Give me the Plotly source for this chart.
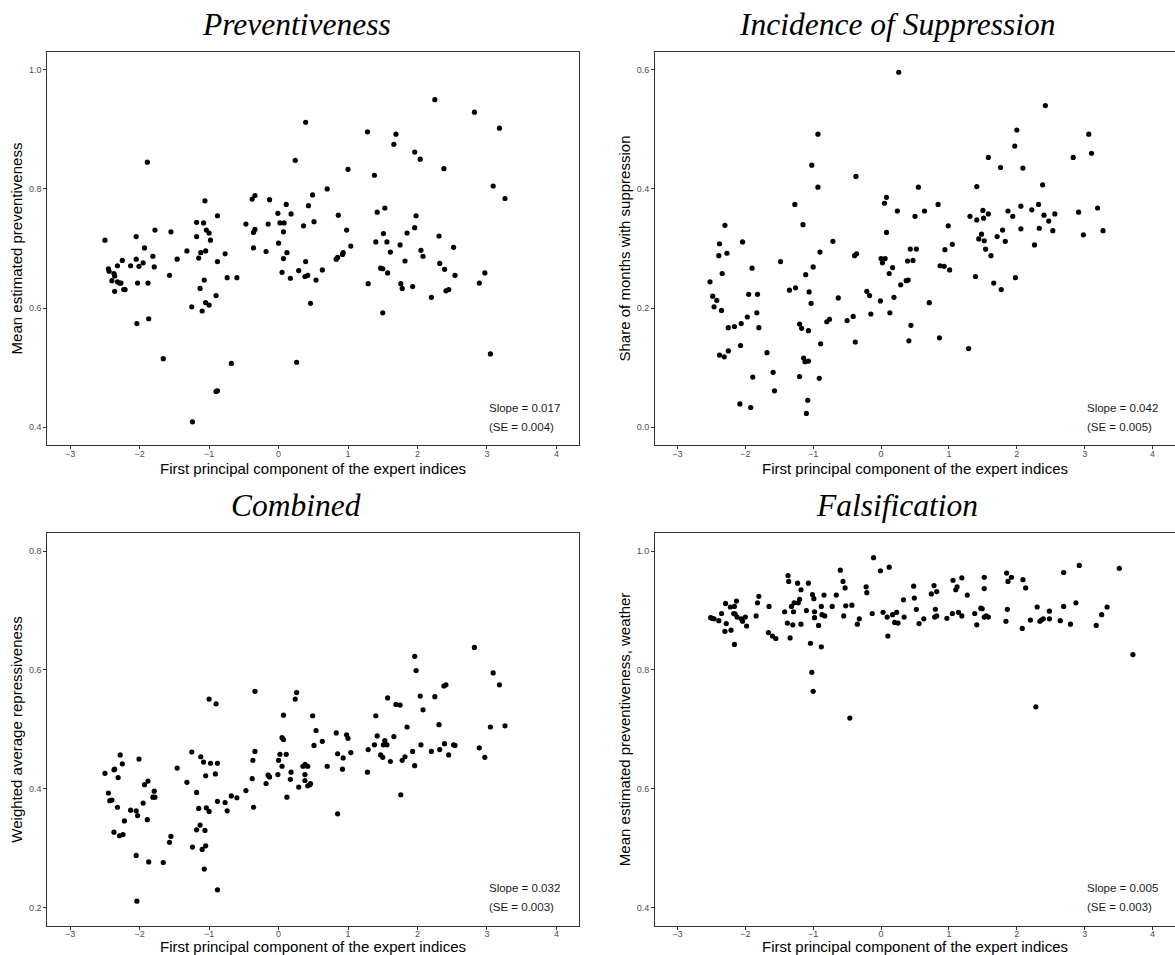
import plotly.graph_objects as go

# ---------------- data ----------------
prev_x = [-2.50, -2.45, -2.44, -2.40, -2.37, -2.36, -2.36, -2.32, -2.32, -2.29,
          -2.27, -2.25, -2.23, -2.21, -2.13, -2.05, -2.05, -2.03, -2.01, -2.04,
          -1.95, -1.93, -1.88, -1.89, -1.87, -1.81, -1.79, -1.78, -1.66, -1.57,
          -1.55, -1.46, -1.32, -1.25, -1.24, -1.18, -1.18, -1.15, -1.13, -1.12,
          -1.10, -1.08, -1.07, -1.06, -1.05, -1.05, -1.04, -1.00, -1.00, -0.98,
          -0.90, -0.90, -0.88, -0.88, -0.88, -0.77, -0.74, -0.68, -0.60, -0.47,
          -0.38, -0.36, -0.34, -0.34, -0.36, -0.18, -0.15, -0.13, -0.01, 0.00,
          0.02, 0.05, 0.07, 0.07, 0.08, 0.11, 0.12, 0.17, 0.18, 0.24,
          0.26, 0.29,
          0.39, 0.36, 0.39, 0.38, 0.42, 0.43, 0.46, 0.49, 0.51, 0.54,
          0.63, 0.70, 0.83, 0.85, 0.86, 0.92, 0.93, 0.98, 1.00, 1.04,
          1.28, 1.29, 1.38, 1.40, 1.42, 1.47, 1.50, 1.51, 1.53, 1.56,
          1.57, 1.50, 1.61, 1.66, 1.69, 1.75, 1.76, 1.78, 1.82, 1.85,
          1.93, 1.96, 1.96, 1.98, 2.04, 2.05, 2.08, 2.20, 2.25, 2.31,
          2.32, 2.38, 2.39, 2.41, 2.45, 2.52, 2.54, 2.82, 2.89, 2.97,
          3.05, 3.09, 3.18, 3.26]
prev_y = [0.714, 0.666, 0.662, 0.646, 0.658, 0.654, 0.628, 0.644, 0.671, 0.642,
          0.642, 0.680, 0.631, 0.631, 0.671, 0.720, 0.682, 0.642, 0.670, 0.574,
          0.676, 0.701, 0.642, 0.845, 0.582, 0.687, 0.669, 0.731, 0.515, 0.655,
          0.728, 0.682, 0.696, 0.602, 0.409, 0.744, 0.720, 0.684, 0.633, 0.693,
          0.595, 0.743, 0.647, 0.780, 0.696, 0.609, 0.731, 0.605, 0.726, 0.714,
          0.621, 0.460, 0.461, 0.678, 0.755, 0.691, 0.651, 0.507, 0.651, 0.741,
          0.783, 0.727, 0.789, 0.732, 0.701, 0.695, 0.741, 0.782, 0.759, 0.709,
          0.743, 0.660, 0.683, 0.728, 0.743, 0.774, 0.693, 0.650, 0.758, 0.848,
          0.509, 0.663,
          0.912, 0.738, 0.678, 0.653, 0.655, 0.772, 0.608, 0.790, 0.745, 0.647,
          0.664, 0.800, 0.682, 0.685, 0.756, 0.690, 0.693, 0.731, 0.833, 0.704,
          0.896, 0.641, 0.823, 0.711, 0.761, 0.667, 0.666, 0.725, 0.768, 0.711,
          0.659, 0.592, 0.694, 0.875, 0.892, 0.706, 0.641, 0.633, 0.679, 0.726,
          0.636, 0.735, 0.862, 0.755, 0.850, 0.697, 0.687, 0.618, 0.950, 0.721,
          0.675, 0.834, 0.665, 0.629, 0.631, 0.702, 0.655, 0.929, 0.642, 0.659,
          0.523, 0.805, 0.902, 0.784]

supp_x = [-2.52, -2.48, -2.46, -2.42, -2.39, -2.38, -2.38, -2.35, -2.34, -2.31,
          -2.30, -2.27, -2.25, -2.25, -2.16, -2.08, -2.07, -2.06, -2.04, -1.97,
          -1.95, -1.92, -1.90, -1.89, -1.83, -1.82, -1.80, -1.68, -1.59, -1.57,
          -1.48, -1.35, -1.27, -1.26, -1.20, -1.20, -1.17, -1.15, -1.14, -1.12,
          -1.11, -1.08, -1.10, -1.07, -1.07, -1.06, -1.03, -1.02, -1.00, -0.93,
          -0.93, -0.90, -0.91, -0.89, -0.80, -0.76, -0.71, -0.63, -0.50, -0.41,
          -0.39, -0.38, -0.37, -0.36, -0.21, -0.17, -0.15,
          -0.01, 0.00, 0.02, 0.05, 0.06, 0.08, 0.08, 0.12, 0.13, 0.17,
          0.19, 0.24, 0.26, 0.29, 0.37, 0.40, 0.39, 0.41, 0.43, 0.44,
          0.47, 0.50, 0.52, 0.55, 0.64, 0.71, 0.84, 0.86, 0.87, 0.93,
          0.94, 0.99, 1.01, 1.05, 1.29, 1.31, 1.39, 1.41, 1.41, 1.44,
          1.48, 1.50, 1.51, 1.52, 1.54, 1.58, 1.58, 1.62, 1.66, 1.71,
          1.76, 1.77, 1.79, 1.83, 1.87, 1.94, 1.97, 1.98, 2.00, 2.06,
          2.06, 2.09, 2.22, 2.26, 2.32, 2.33, 2.38, 2.40, 2.42, 2.47,
          2.53, 2.56, 2.83, 2.91, 2.98, 3.06, 3.10, 3.19, 3.27]
supp_y = [0.244, 0.220, 0.202, 0.213, 0.288, 0.121, 0.308, 0.196, 0.258, 0.118,
          0.339, 0.292, 0.167, 0.128, 0.169, 0.039, 0.137, 0.174, 0.311, 0.185,
          0.223, 0.033, 0.267, 0.084, 0.192, 0.223, 0.167, 0.125, 0.092, 0.061,
          0.278, 0.230, 0.374, 0.234, 0.085, 0.173, 0.166, 0.340, 0.116, 0.110,
          0.256, 0.045, 0.023, 0.162, 0.111, 0.227, 0.208, 0.440, 0.269, 0.403,
          0.492, 0.294, 0.082, 0.140, 0.177, 0.181, 0.312, 0.217, 0.179, 0.186,
          0.288, 0.143, 0.421, 0.291, 0.228, 0.221, 0.190,
          0.212, 0.283, 0.276, 0.376, 0.283, 0.327, 0.386, 0.258, 0.192, 0.268,
          0.218, 0.363, 0.596, 0.239, 0.246, 0.247, 0.279, 0.145, 0.299, 0.171,
          0.280, 0.354, 0.299, 0.403, 0.363, 0.209, 0.374, 0.150, 0.271, 0.270,
          0.298, 0.338, 0.264, 0.307, 0.132, 0.354, 0.253, 0.348, 0.404, 0.316,
          0.324, 0.364, 0.351, 0.313, 0.299, 0.358, 0.453, 0.288, 0.242, 0.320,
          0.436, 0.231, 0.331, 0.312, 0.363, 0.354, 0.472, 0.251, 0.499, 0.371,
          0.333, 0.435, 0.365, 0.306, 0.374, 0.334, 0.407, 0.356, 0.540, 0.346,
          0.330, 0.358, 0.453, 0.361, 0.323, 0.492, 0.460, 0.368, 0.330]

comb_x = [-2.50, -2.45, -2.43, -2.40, -2.37, -2.37, -2.36, -2.32, -2.31, -2.29,
          -2.28, -2.25, -2.24, -2.22, -2.13, -2.05, -2.05, -2.04, -2.03, -2.01,
          -1.95, -1.93, -1.89, -1.88, -1.87, -1.81, -1.79, -1.78, -1.66, -1.57,
          -1.55, -1.46, -1.32, -1.25, -1.24, -1.18, -1.18, -1.15, -1.13, -1.12,
          -1.10, -1.08, -1.07, -1.06, -1.05, -1.05, -1.04, -1.00, -1.00, -0.98,
          -0.91, -0.90, -0.88, -0.88, -0.88, -0.77, -0.74, -0.68, -0.60, -0.47,
          -0.38, -0.37, -0.36, -0.34, -0.34, -0.18, -0.15, -0.13, -0.01, 0.00,
          0.02, 0.05, 0.05, 0.07, 0.07, 0.11, 0.12, 0.17, 0.18, 0.24,
          0.26, 0.29,
          0.35, 0.38, 0.39, 0.42, 0.38, 0.38, 0.42, 0.45, 0.46, 0.49,
          0.51, 0.54, 0.63, 0.70, 0.83, 0.85, 0.92, 0.93, 0.98, 1.00,
          1.04, 0.85, 1.28, 1.29, 1.38, 1.40, 1.42, 1.47, 1.50, 1.51,
          1.53, 1.56, 1.57, 1.61, 1.66, 1.69, 1.75, 1.76, 1.78, 1.82,
          1.85, 1.93, 1.96, 1.96, 1.98, 2.04, 2.05, 2.08, 2.20, 2.25,
          2.31, 2.32, 2.38, 2.39, 2.41, 2.45, 2.52, 2.54, 2.82, 2.89,
          2.97, 3.05, 3.09, 3.18, 3.26]
comb_y = [0.426, 0.393, 0.380, 0.381, 0.327, 0.432, 0.433, 0.369, 0.419, 0.321,
          0.457, 0.442, 0.323, 0.346, 0.364, 0.363, 0.288, 0.211, 0.355, 0.450,
          0.376, 0.407, 0.348, 0.413, 0.277, 0.386, 0.396, 0.386, 0.276, 0.310,
          0.320, 0.435, 0.411, 0.462, 0.302, 0.331, 0.394, 0.367, 0.339, 0.454,
          0.298, 0.445, 0.265, 0.330, 0.304, 0.422, 0.368, 0.362, 0.551, 0.443,
          0.425, 0.543, 0.230, 0.443, 0.379, 0.377, 0.363, 0.388, 0.385, 0.397,
          0.417, 0.448, 0.369, 0.463, 0.564, 0.409, 0.423, 0.420, 0.424, 0.448,
          0.458, 0.438, 0.486, 0.483, 0.524, 0.458, 0.386, 0.416, 0.428, 0.551,
          0.562, 0.403,
          0.438, 0.441, 0.439, 0.438, 0.424, 0.414, 0.405, 0.407, 0.409, 0.523,
          0.473, 0.498, 0.480, 0.438, 0.494, 0.459, 0.433, 0.452, 0.491, 0.485,
          0.461, 0.358, 0.428, 0.466, 0.474, 0.523, 0.489, 0.457, 0.453, 0.474,
          0.481, 0.474, 0.553, 0.446, 0.488, 0.542, 0.541, 0.390, 0.448, 0.454,
          0.504, 0.463, 0.623, 0.439, 0.599, 0.556, 0.474, 0.533, 0.463, 0.555,
          0.508, 0.466, 0.573, 0.476, 0.575, 0.457, 0.474, 0.473, 0.638, 0.469,
          0.453, 0.504, 0.595, 0.575, 0.506]

fals_x = [-2.51, -2.49, -2.46, -2.39, -2.35, -2.30, -2.29, -2.28, -2.22, -2.21,
          -2.17, -2.16, -2.16, -2.15, -2.13, -2.12, -2.06, -2.04, -2.00, -1.98,
          -1.84, -1.82, -1.80, -1.65, -1.66, -1.60, -1.55, -1.42, -1.38, -1.37,
          -1.36, -1.34, -1.32, -1.30, -1.29, -1.28, -1.23, -1.22, -1.20, -1.18,
          -1.18, -1.10, -1.07, -1.04, -1.02, -1.01, -1.00, -0.99, -0.98, -0.98,
          -0.92, -0.88, -0.88, -0.87, -0.84, -0.83, -0.72, -0.66, -0.60, -0.56,
          -0.55, -0.53, -0.52, -0.46, -0.43, -0.35, -0.32, -0.22, -0.21, -0.13,
          -0.11,
          -0.01, 0.12, 0.03, 0.09, 0.10, 0.17, 0.20, 0.23, 0.25, 0.33,
          0.34, 0.48, 0.49, 0.52, 0.56, 0.63, 0.74, 0.78, 0.80, 0.79,
          0.82, 0.82, 0.97, 1.05, 1.06, 1.10, 1.12, 1.14, 1.19, 1.19,
          1.27, 1.38, 1.41, 1.47, 1.49, 1.52, 1.52, 1.52, 1.55, 1.58,
          1.84, 1.85, 1.86, 1.87, 1.92, 2.08, 2.09, 2.13, 2.20, 2.28,
          2.30, 2.34, 2.36, 2.39, 2.48, 2.48, 2.64, 2.69, 2.69, 2.79,
          2.87, 2.92, 3.17, 3.25, 3.33, 3.51, 3.71]
fals_y = [0.888, 0.887, 0.886, 0.883, 0.895, 0.865, 0.912, 0.878, 0.906, 0.867,
          0.895, 0.843, 0.907, 0.894, 0.916, 0.889, 0.886, 0.882, 0.889, 0.874,
          0.891, 0.913, 0.924, 0.907, 0.863, 0.857, 0.853, 0.898, 0.879, 0.959,
          0.949, 0.854, 0.907, 0.876, 0.898, 0.913, 0.946, 0.913, 0.919, 0.935,
          0.877, 0.900, 0.946, 0.845, 0.796, 0.927, 0.764, 0.920, 0.888, 0.898,
          0.875, 0.907, 0.839, 0.893, 0.926, 0.891, 0.907, 0.926, 0.968, 0.949,
          0.891, 0.938, 0.908, 0.719, 0.909, 0.877, 0.886, 0.940, 0.930, 0.895,
          0.989,
          0.967, 0.973, 0.897, 0.889, 0.857, 0.893, 0.880, 0.897, 0.879, 0.918,
          0.889, 0.941, 0.921, 0.902, 0.878, 0.886, 0.928, 0.942, 0.902, 0.889,
          0.932, 0.891, 0.887, 0.895, 0.951, 0.935, 0.940, 0.897, 0.955, 0.891,
          0.926, 0.895, 0.876, 0.904, 0.903, 0.956, 0.937, 0.889, 0.891, 0.889,
          0.882, 0.963, 0.902, 0.949, 0.956, 0.870, 0.952, 0.938, 0.884, 0.738,
          0.906, 0.882, 0.884, 0.886, 0.886, 0.899, 0.883, 0.964, 0.907, 0.877,
          0.913, 0.976, 0.875, 0.893, 0.906, 0.971, 0.826]

titles = ["Preventiveness", "Incidence of Suppression", "Combined", "Falsification"]
y_titles = ["Mean estimated preventiveness", "Share of months with suppression",
            "Weighted average repressiveness", "Mean estimated preventiveness, weather"]
slopes = ["0.017", "0.042", "0.032", "0.005"]
ses = ["0.004", "0.005", "0.003", "0.003"]
y_ranges = [[0.37, 1.03], [-0.03, 0.63], [0.17, 0.83], [0.37, 1.03]]
y_ticks = [[0.4, 0.6, 0.8, 1.0], [0.0, 0.2, 0.4, 0.6], [0.2, 0.4, 0.6, 0.8], [0.4, 0.6, 0.8, 1.0]]
x_ticks = [-3, -2, -1, 0, 1, 2, 3, 4]
x_title = "First principal component of the expert indices"

series = [(prev_x, prev_y), (supp_x, supp_y), (comb_x, comb_y), (fals_x, fals_y)]

# ---------------- layout ----------------
W, H = 1175, 955
x_domains = [[47.3 / W, 579.3 / W], [655.0 / W, 1.0]]
y_domains = [[1 - 445.0 / H, 1 - 52.0 / H], [1 - 925.5 / H, 1 - 533.3 / H]]
title_x = [296.0 / W, 897.0 / W]
title_y = [1 - 25.0 / H, 1 - 505.5 / H]
xtitle_y = [1 - 468.0 / H, 1 - 946.5 / H]

SANS = "Liberation Sans, Arial, Helvetica, sans-serif"
SERIF = "Liberation Serif, Times New Roman, serif"

fig = go.Figure()
layout = dict(
    width=W, height=H,
    margin=dict(l=0, r=0, t=0, b=0),
    paper_bgcolor="white", plot_bgcolor="white",
    showlegend=False,
    font=dict(family=SANS, color="black"),
)
annotations = []

for i, ((xs, ys), t, yt, sl, se) in enumerate(zip(series, titles, y_titles, slopes, ses)):
    col = i % 2
    row = i // 2
    n = i + 1
    xa = "x" if n == 1 else f"x{n}"
    ya = "y" if n == 1 else f"y{n}"
    fig.add_trace(go.Scatter(
        x=xs, y=ys, mode="markers", xaxis=xa, yaxis=ya,
        marker=dict(color="black", size=5.2, line=dict(width=0)),
        hoverinfo="x+y",
    ))
    axis_common = dict(
        showline=True, mirror=True, linecolor="#333333", linewidth=1.1,
        ticks="outside", ticklen=3, tickwidth=1, tickcolor="#333333",
        tickfont=dict(size=9, color="#4D4D4D", family=SANS),
        showgrid=False, zeroline=False, automargin=False,
    )
    layout["xaxis" if n == 1 else f"xaxis{n}"] = dict(
        axis_common, domain=x_domains[col], anchor=ya,
        range=[-3.33, 4.33], tickvals=x_ticks, ticklabelstandoff=-3,
    )
    layout["yaxis" if n == 1 else f"yaxis{n}"] = dict(
        axis_common, domain=y_domains[row], anchor=xa,
        range=y_ranges[i], tickvals=y_ticks[i], tickformat=".1f",
        title=dict(text=yt, font=dict(size=15, family=SANS, color="black"), standoff=2),
    )
    # panel title
    annotations.append(dict(
        text=t, x=title_x[col], y=title_y[row], xref="paper", yref="paper",
        xanchor="center", yanchor="middle", showarrow=False,
        font=dict(family=SERIF, size=31.5, color="black", style="italic"),
    ))
    # x-axis title
    annotations.append(dict(
        text=x_title, x=0.5, y=xtitle_y[row], xref=f"{xa} domain", yref="paper",
        xanchor="center", yanchor="middle", showarrow=False, borderpad=0,
        font=dict(family=SANS, size=15, color="black"),
    ))
    annotations.append(dict(
        text=f"Slope = {sl}", x=3.0, y=0.095, xref=xa, yref=f"{ya} domain",
        xanchor="left", yanchor="middle", showarrow=False,
        font=dict(family=SANS, size=11.5, color="#1A1A1A"),
    ))
    annotations.append(dict(
        text=f"(SE = {se})", x=3.0, y=0.047, xref=xa, yref=f"{ya} domain",
        xanchor="left", yanchor="middle", showarrow=False,
        font=dict(family=SANS, size=11.5, color="#1A1A1A"),
    ))

layout["annotations"] = annotations
fig.update_layout(**layout)
fig.write_html(
    "out.html",
    config={"responsive": False, "displayModeBar": False},
    post_script="document.body.style.margin='0px';document.body.style.overflow='hidden';",
)
